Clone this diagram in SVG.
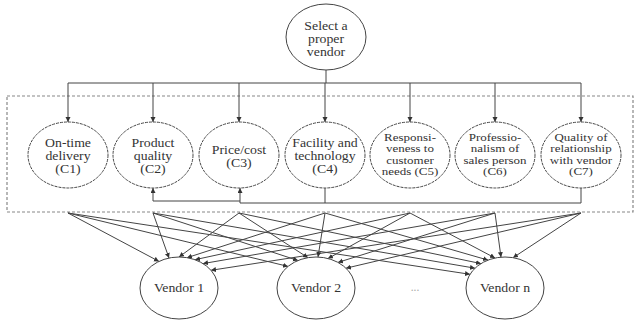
<svg xmlns="http://www.w3.org/2000/svg" width="638" height="320" viewBox="0 0 638 320">
<style>
.bg{fill:#fff}
.n{fill:#fff;stroke:#444;stroke-width:1}
.d{stroke-dasharray:3 1}
.t{font-family:"Liberation Serif","Times New Roman",serif;font-size:11.5px;fill:#333;text-anchor:middle}
.s{font-size:10px}
.c{fill:none;stroke:#444;stroke-width:1}
.box{fill:none;stroke:#888;stroke-width:1.2;stroke-dasharray:3 2}
</style>
<defs>
<marker id="a" markerUnits="userSpaceOnUse" markerWidth="6" markerHeight="6" refX="5" refY="2.5" orient="auto">
<path d="M0,0 L5,2.5 L0,5 z" fill="#333"/>
</marker>
</defs>
<rect class="bg" x="0" y="0" width="638" height="320"/>
<rect class="box" x="7" y="96" width="626" height="116"/>
<g id="connectors">
<path class="c" d="M326,70 V83 M68,83 H581"/>
<path class="c" marker-end="url(#a)" d="M68,83 V122"/>
<path class="c" marker-end="url(#a)" d="M153,83 V122"/>
<path class="c" marker-end="url(#a)" d="M239,83 V122"/>
<path class="c" marker-end="url(#a)" d="M325,83 V122"/>
<path class="c" marker-end="url(#a)" d="M410,83 V122"/>
<path class="c" marker-end="url(#a)" d="M495,83 V122"/>
<path class="c" marker-end="url(#a)" d="M581,83 V122"/>
<path class="c" marker-end="url(#a)" d="M581,188 V203 H240 V188"/>
<path class="c" d="M325,188 V203"/>
<path class="c" marker-end="url(#a)" d="M240,201 H153 V188"/>
<g marker-end="url(#a)">
<path class="c" d="M68,213 L159,261.4"/>
<path class="c" d="M153,213 L169,258"/>
<path class="c" d="M239,213 L179,257"/>
<path class="c" d="M325,213 L187,257.7"/>
<path class="c" d="M410,213 L195,259.7"/>
<path class="c" d="M495,213 L203,263.6"/>
<path class="c" d="M581,213 L211,270.3"/>
<path class="c" d="M68,213 L288,266.4"/>
<path class="c" d="M153,213 L298,260.5"/>
<path class="c" d="M239,213 L308,257.7"/>
<path class="c" d="M325,213 L318,257"/>
<path class="c" d="M410,213 L328,258.5"/>
<path class="c" d="M495,213 L338,262.4"/>
<path class="c" d="M581,213 L346,268.2"/>
<path class="c" d="M68,213 L470,274.3"/>
<path class="c" d="M153,213 L475,268.2"/>
<path class="c" d="M239,213 L481,263.6"/>
<path class="c" d="M325,213 L488,260.1"/>
<path class="c" d="M410,213 L495,258"/>
<path class="c" d="M495,213 L501,257.2"/>
<path class="c" d="M581,213 L513,257.7"/>
</g>
</g>
<g id="goal">
<ellipse class="n" cx="326" cy="37" rx="40" ry="33"/>
<text class="t" transform="translate(326 0) scale(1.2 1)"><tspan x="0" y="30">Select a</tspan><tspan x="0" y="43">proper</tspan><tspan x="0" y="56">vendor</tspan></text>
</g>
<g id="c1">
<ellipse class="n d" cx="68" cy="155" rx="40" ry="33"/>
<text class="t" transform="translate(68 0) scale(1.2 1)"><tspan x="0" y="147">On-time</tspan><tspan x="0" y="160">delivery</tspan><tspan x="0" y="173">(C1)</tspan></text>
</g>
<g id="c2">
<ellipse class="n d" cx="153" cy="155" rx="40" ry="33"/>
<text class="t" transform="translate(153 0) scale(1.2 1)"><tspan x="0" y="147">Product</tspan><tspan x="0" y="160">quality</tspan><tspan x="0" y="173">(C2)</tspan></text>
</g>
<g id="c3">
<ellipse class="n d" cx="239" cy="155" rx="40" ry="33"/>
<text class="t" transform="translate(239 0) scale(1.2 1)"><tspan x="0" y="154">Price/cost</tspan><tspan x="0" y="167">(C3)</tspan></text>
</g>
<g id="c4">
<ellipse class="n d" cx="325" cy="155" rx="40" ry="33"/>
<text class="t" transform="translate(325 0) scale(1.2 1)"><tspan x="0" y="147">Facility and</tspan><tspan x="0" y="160">technology</tspan><tspan x="0" y="173">(C4)</tspan></text>
</g>
<g id="c5">
<ellipse class="n d" cx="410" cy="155" rx="40" ry="33"/>
<text class="t s" transform="translate(410 0) scale(1.3 1)"><tspan x="0" y="141">Responsi-</tspan><tspan x="0" y="152.5">veness to</tspan><tspan x="0" y="164">customer</tspan><tspan x="0" y="175.5">needs (C5)</tspan></text>
</g>
<g id="c6">
<ellipse class="n d" cx="495" cy="155" rx="40" ry="33"/>
<text class="t s" transform="translate(495 0) scale(1.3 1)"><tspan x="0" y="141">Professio-</tspan><tspan x="0" y="152.5">nalism of</tspan><tspan x="0" y="164">sales person</tspan><tspan x="0" y="175.5">(C6)</tspan></text>
</g>
<g id="c7">
<ellipse class="n d" cx="581" cy="155" rx="40" ry="33"/>
<text class="t s" transform="translate(581 0) scale(1.3 1)"><tspan x="0" y="141">Quality of</tspan><tspan x="0" y="152.5">relationship</tspan><tspan x="0" y="164">with vendor</tspan><tspan x="0" y="175.5">(C7)</tspan></text>
</g>
<g id="v1">
<ellipse class="n" cx="179" cy="288" rx="39" ry="31"/>
<text class="t" transform="translate(179 0) scale(1.2 1)" x="0" y="292">Vendor 1</text>
</g>
<g id="v2">
<ellipse class="n" cx="316" cy="288" rx="39" ry="31"/>
<text class="t" transform="translate(316 0) scale(1.2 1)" x="0" y="292">Vendor 2</text>
</g>
<g id="dots">
<text class="t" x="415" y="291" style="fill:#aaa">...</text>
</g>
<g id="vn">
<ellipse class="n" cx="505" cy="288" rx="39" ry="31"/>
<text class="t" transform="translate(505 0) scale(1.2 1)" x="0" y="292">Vendor n</text>
</g>
</svg>
